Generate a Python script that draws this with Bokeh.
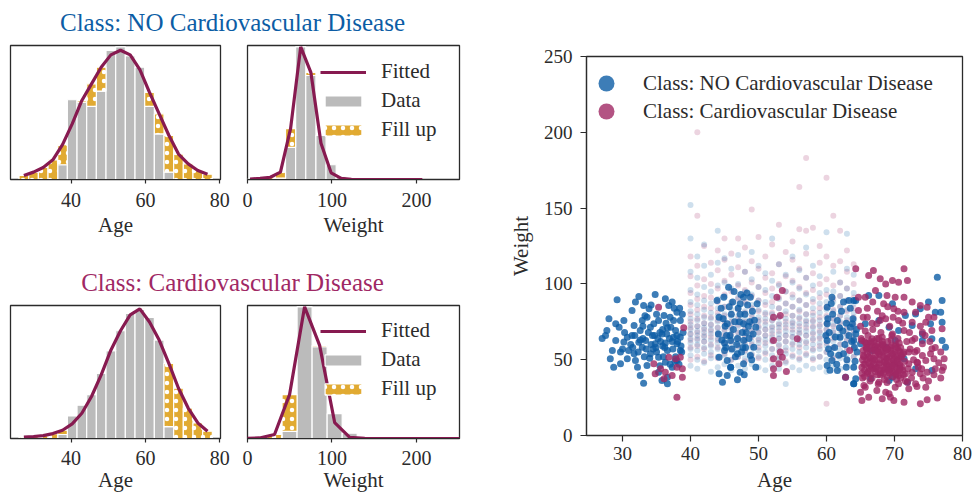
from bokeh.plotting import figure
from bokeh.layouts import row, column
from bokeh.models import Range1d, FixedTicker, Label, Legend, LegendItem
from bokeh.embed import file_html
from bokeh.resources import INLINE

# ---------------- data ----------------
title_no = "Class: NO Cardiovascular Disease"
title_cvd = "Class: Cardiovascular Disease"

age_centers = [27.3, 29.9, 32.5, 35.1, 37.7, 40.3, 42.9, 45.5, 48.1, 50.7,
               53.3, 55.9, 58.5, 61.1, 63.7, 66.3, 68.9, 71.5, 74.1, 76.7]
no_age_data = [0, 0, 0, 0, 0.11, 0.595, 0.577, 0.545, 0.66, 0.963,
               0.99, 0.925, 0.838, 0.545, 0.34, 0.055, 0, 0, 0, 0]
no_age_fit = [0.03, 0.055, 0.09, 0.147, 0.26, 0.415, 0.59, 0.714, 0.838, 0.93,
              0.965, 0.93, 0.82, 0.65, 0.49, 0.33, 0.19, 0.117, 0.067, 0.04]
cvd_age_data = [0, 0, 0, 0, 0.03, 0.17, 0.25, 0.33, 0.49, 0.66,
                0.81, 0.94, 0.97, 0.91, 0.74, 0.09, 0, 0, 0, 0]
cvd_age_fit = [0.01, 0.015, 0.022, 0.037, 0.062, 0.11, 0.19, 0.316, 0.478, 0.664,
               0.81, 0.93, 0.975, 0.876, 0.74, 0.565, 0.378, 0.229, 0.117, 0.055]

no_w_centers = [3, 15, 27, 39, 51, 63, 75, 87, 99, 111, 123, 135, 147, 159, 171, 183, 195, 207]
no_w_data = [0, 0, 0, 0.01, 0.24, 0.99, 0.776, 0.33, 0.11, 0.02, 0, 0, 0, 0, 0, 0, 0, 0]
no_w_fit = [0.003, 0.008, 0.017, 0.055, 0.38, 0.99, 0.80, 0.27, 0.05, 0.008, 0.002, 0, 0, 0, 0, 0, 0, 0]

cvd_w_centers = [-3.6, 14.2, 32.0, 49.8, 67.6, 85.4, 103.2, 121.0, 138.8, 156.6,
                 174.4, 192.2, 210.0, 227.8, 245.6, 263.4]
cvd_w_data = [0, 0, 0, 0.054, 0.99, 0.69, 0.187, 0.04, 0, 0, 0, 0, 0, 0, 0, 0]
cvd_w_fit = [0, 0.004, 0.03, 0.33, 0.99, 0.70, 0.12, 0.008, 0.002, 0, 0, 0, 0, 0, 0, 0]

age_ticks = [40, 60, 80]
weight_ticks = [0, 100, 200]
scatter_x_ticks = [30, 40, 50, 60, 70, 80]
scatter_y_ticks = [0, 50, 100, 150, 200, 250]

# faint (original) records, one column per age year
faint_ages = [40, 41, 42, 43, 44, 45, 46, 47, 48, 49, 50, 51, 52,
              53, 54, 55, 56, 57, 58, 59, 60, 61, 62, 63, 64]
faint_no_w = [
    [46, 53, 57, 61, 64, 67, 70, 73, 77, 82, 88, 96, 108, 130, 152],
    [44, 50, 56, 60, 63, 66, 69, 72, 76, 80, 86, 93, 104, 118],
    [48, 54, 58, 62, 65, 68, 71, 74, 78, 83, 89, 98, 112, 126],
    [42, 51, 55, 59, 63, 67, 70, 73, 77, 81, 87, 95, 106],
    [45, 52, 57, 61, 64, 68, 71, 75, 79, 84, 90, 99, 114, 135],
    [47, 53, 58, 62, 65, 69, 72, 76, 80, 85, 92, 101, 117],
    [43, 50, 56, 60, 64, 67, 70, 74, 78, 83, 88, 97, 110],
    [46, 52, 57, 61, 65, 68, 72, 75, 79, 84, 91, 100, 119],
    [44, 51, 55, 60, 63, 66, 70, 73, 77, 82, 87, 95, 108],
    [47, 54, 58, 62, 66, 69, 73, 76, 80, 86, 93, 103, 121],
    [45, 52, 56, 61, 64, 68, 71, 75, 78, 83, 89, 98, 112],
    [43, 50, 55, 59, 63, 66, 70, 73, 77, 81, 88, 96, 107],
    [46, 53, 57, 62, 65, 69, 72, 76, 80, 85, 92, 102, 130],
    [44, 51, 56, 60, 64, 67, 71, 74, 78, 84, 90, 99, 113],
    [34, 48, 54, 58, 62, 66, 69, 73, 77, 82, 87, 95, 106],
    [45, 52, 57, 61, 65, 68, 72, 75, 79, 85, 91, 101, 118],
    [43, 50, 55, 60, 63, 67, 70, 74, 78, 83, 89, 97, 109],
    [46, 53, 58, 62, 66, 69, 73, 76, 80, 86, 93, 104, 124],
    [44, 51, 56, 60, 64, 68, 71, 75, 79, 84, 90, 99, 112],
    [45, 52, 57, 61, 65, 68, 72, 76, 81, 87, 94, 105],
    [42, 50, 55, 59, 63, 67, 70, 74, 78, 83, 88, 96, 134],
    [46, 53, 58, 62, 66, 69, 73, 77, 82, 88, 95, 108],
    [44, 51, 56, 60, 64, 67, 71, 75, 79, 85, 92, 101],
    [47, 54, 58, 63, 66, 70, 74, 78, 83, 89, 97, 110, 133],
    [45, 52, 57, 61, 65, 68, 72, 76, 81, 87, 94, 106],
]
faint_cvd_w = [
    [50, 58, 63, 67, 71, 75, 80, 86, 94, 105, 118],
    [52, 59, 64, 68, 72, 77, 83, 90, 99, 112, 145, 200],
    [49, 57, 62, 66, 70, 74, 79, 85, 92, 103, 125],
    [53, 60, 65, 69, 73, 78, 84, 91, 100, 114],
    [51, 58, 63, 67, 71, 76, 81, 88, 97, 109, 122],
    [54, 61, 66, 70, 74, 79, 85, 93, 102, 116, 130],
    [50, 57, 62, 67, 71, 75, 80, 87, 95, 106, 120],
    [52, 59, 64, 68, 73, 77, 83, 90, 99, 111, 130],
    [49, 56, 62, 66, 70, 75, 81, 88, 96, 108, 124],
    [53, 60, 65, 69, 74, 78, 84, 92, 101, 115, 149],
    [51, 58, 63, 68, 72, 76, 82, 89, 98, 110, 131],
    [54, 61, 66, 70, 75, 80, 86, 94, 104, 118],
    [50, 57, 63, 67, 71, 76, 81, 88, 97, 107, 126],
    [52, 59, 64, 69, 73, 78, 84, 91, 100, 113, 139],
    [49, 56, 62, 66, 71, 75, 80, 87, 95, 105, 121],
    [53, 60, 65, 70, 74, 79, 85, 93, 102, 116, 128],
    [51, 58, 63, 68, 72, 77, 82, 89, 98, 110, 136, 164],
    [54, 61, 66, 71, 75, 80, 86, 94, 104, 120, 135, 183],
    [50, 57, 63, 67, 72, 76, 81, 88, 96, 107, 137],
    [52, 59, 64, 69, 73, 78, 84, 91, 100, 114, 125],
    [21, 55, 61, 66, 70, 74, 79, 85, 93, 103, 118, 170],
    [51, 58, 64, 68, 72, 77, 83, 90, 99, 112, 145],
    [53, 60, 65, 70, 74, 79, 85, 92, 101, 115, 135],
    [50, 57, 63, 67, 71, 76, 82, 89, 97, 108, 122],
    [52, 59, 64, 69, 73, 78, 84, 91, 100, 113],
]

# generated ("fill up") samples, NO class
no_gen_age = [
    29.2, 27.5, 27.0, 28.0, 29.0, 29.0, 30.2, 28.2, 28.7, 29.7, 31.4, 31.9, 32.4, 33.1, 34.8, 33.6,
    34.1, 32.6, 31.7, 30.7, 31.7, 32.2, 32.6, 33.1, 36.3, 36.8, 37.3, 38.0, 38.5, 37.1, 35.8, 34.8,
    36.6, 38.0, 38.5, 34.1, 35.3, 36.3, 33.6, 35.3, 36.6, 36.6, 30.9, 29.7, 32.9, 33.4, 34.4, 32.4,
    34.6, 35.3, 36.1, 37.5, 37.8, 37.5, 38.5, 38.0, 37.3, 35.8, 31.9, 30.7, 27.7, 29.5, 30.2, 33.9,
    32.9, 31.4, 33.5, 34.2, 35.0, 35.6, 36.2, 36.9, 37.4, 38.1, 34.7, 35.9, 36.5, 37.8, 38.6, 33.0,
    34.0, 36.0, 37.0, 38.3, 35.5, 32.3, 31.2, 31.8, 30.0, 38.9, 38.8, 37.6, 36.4, 35.0, 34.2, 33.3,
    33.8, 34.5, 35.2, 35.9, 36.6, 37.3, 38.0, 38.7, 33.2, 34.9, 36.3, 37.7, 32.6, 35.5, 37.0, 38.4,
    31.5, 30.3, 28.5, 33.0,
    44.2, 44.7, 45.4, 46.9, 45.6, 44.9, 43.9, 47.8, 48.8, 47.3, 49.8, 44.2, 45.4, 47.8, 49.6, 44.1,
    45.9, 47.8, 49.3, 45.0, 46.9, 48.8, 45.4, 47.8, 49.6, 47.3, 45.9, 44.2, 45.8, 46.3, 46.8, 47.2,
    47.6, 48.1, 48.5, 45.2, 46.0, 47.0, 48.0, 48.6, 49.2, 44.6, 45.1, 46.6, 47.5, 49.0, 44.5, 46.2,
    48.3, 45.9, 47.9, 49.4, 44.8, 45.3, 45.7, 46.1, 46.5, 46.9, 47.3, 47.7, 48.2, 48.7, 49.1, 45.0,
    46.4, 47.4, 48.4,
    60.1, 60.8, 62.5, 64.0, 60.1, 61.6, 63.5, 60.1, 62.0, 64.0, 60.6, 62.5, 64.5, 60.1, 61.6, 62.8,
    64.0, 64.0, 60.8, 60.4, 61.2, 61.9, 62.7, 63.3, 63.9, 64.4, 60.9, 62.2, 63.0, 61.5, 64.2, 60.3,
    62.9, 59.9, 60.2, 60.7, 61.3, 61.8, 62.4, 62.9, 63.5, 64.1, 60.5, 63.7,
    76.3, 77.0, 75.0, 73.8, 76.0, 76.8, 73.1, 71.6, 69.7, 67.7, 66.2, 64.3, 63.3, 77.0, 77.5, 77.0,
    75.5, 74.1, 72.6, 70.6, 69.2, 67.7, 65.7, 63.8, 64.3, 65.0, 71.4, 73.1, 71.9, 69.7, 69.2, 66.5,
    64.3, 64.0, 74.1, 75.3, 70.1, 68.7, 66.7, 75.5,
]
no_gen_w = [
    89.5, 66.0, 64.0, 77.0, 73.7, 62.7, 61.6, 50.6, 45.0, 47.3, 82.5, 88.0, 91.7, 85.8, 93.0, 78.0,
    71.4, 69.3, 72.6, 64.8, 53.9, 45.0, 39.6, 34.5, 90.2, 85.8, 88.0, 81.3, 75.9, 71.4, 67.0, 60.5,
    56.0, 60.5, 64.8, 53.9, 51.6, 48.3, 46.2, 41.8, 34.1, 38.5, 56.0, 55.0, 58.2, 62.7, 66.0, 61.5,
    73.7, 75.9, 79.2, 75.9, 69.3, 64.8, 56.0, 49.5, 45.0, 36.3, 49.5, 50.6, 69.3, 71.4, 75.9, 83.6,
    75.9, 66.0, 57.0, 60.0, 55.0, 62.0, 58.0, 64.0, 57.0, 62.0, 66.0, 70.0, 67.0, 52.0, 59.0, 64.0,
    51.0, 52.0, 47.0, 47.0, 46.0, 55.0, 60.0, 66.0, 57.0, 68.0, 80.0, 84.0, 74.0, 80.0, 86.0, 79.0,
    68.0, 57.0, 64.0, 59.0, 71.0, 62.0, 66.0, 55.0, 52.0, 58.0, 61.0, 49.0, 63.0, 68.0, 78.0, 84.0,
    58.0, 68.0, 56.0, 72.0,
    40.7, 35.2, 39.6, 36.7, 97.8, 91.2, 89.0, 91.2, 91.2, 86.9, 86.9, 78.0, 73.7, 73.7, 71.4, 67.0,
    62.7, 62.7, 58.2, 56.0, 53.9, 52.8, 49.5, 47.3, 45.0, 41.8, 45.0, 51.6, 66.0, 70.0, 60.0, 75.0,
    68.0, 58.0, 72.0, 58.0, 80.0, 84.0, 80.0, 64.0, 67.0, 63.0, 72.0, 52.0, 55.0, 50.0, 84.0, 88.0,
    94.0, 45.0, 40.0, 76.0, 77.0, 66.0, 85.0, 57.0, 75.0, 64.0, 80.0, 58.0, 68.0, 75.0, 82.0, 61.0,
    95.0, 93.0, 86.0,
    84.6, 91.2, 88.0, 89.0, 73.7, 75.9, 71.4, 62.7, 64.8, 62.7, 53.9, 53.9, 55.0, 46.2, 42.9, 38.5,
    45.0, 34.1, 49.5, 68.0, 58.0, 71.0, 60.0, 66.0, 77.0, 70.0, 80.0, 82.0, 50.0, 47.0, 49.0, 57.0,
    74.0, 66.0, 77.0, 87.0, 65.0, 53.0, 69.0, 45.0, 84.0, 58.0, 43.0, 62.0,
    104.4, 89.0, 88.0, 83.6, 81.3, 81.3, 80.2, 79.2, 86.9, 92.3, 92.3, 89.0, 89.0, 74.7, 58.2, 62.7,
    63.8, 62.7, 72.6, 69.3, 71.4, 75.9, 73.7, 73.7, 67.0, 60.5, 50.6, 44.0, 35.2, 38.5, 36.3, 37.4,
    37.4, 34.1, 67.0, 73.7, 62.7, 58.2, 56.0, 42.9,
]

# generated ("fill up") samples, Cardiovascular class
cvd_gen_age = [
    35.3, 39.0, 34.6, 34.8, 35.6, 36.3, 36.8, 37.8, 38.5, 38.8, 38.8, 37.3, 36.1, 38.0, 38.0,
    53.5, 52.7, 52.2, 53.2, 52.2, 55.7, 53.2, 53.5, 53.0, 52.2, 52.2, 52.2, 54.1, 62.8, 63.4,
    64.3, 66.2, 66.9, 71.4, 67.9, 68.7, 69.7, 70.6, 71.9, 67.2, 68.9, 70.1, 71.4, 72.6, 73.8, 74.8,
    75.0, 75.8, 74.6, 77.0, 75.5, 74.1, 72.6, 73.1, 71.4, 69.9, 68.4, 65.7, 64.7, 64.7, 66.0, 67.4,
    68.7, 70.6, 71.4, 69.7, 68.2, 66.7, 65.2, 72.6, 74.1, 75.5, 76.8, 77.3, 77.0, 76.0, 74.8, 73.8,
    72.6, 71.6, 70.6, 72.1, 73.3, 74.6, 75.8, 75.3, 74.1, 73.3, 72.1, 74.6, 73.3, 72.1, 70.1, 68.7,
    67.4, 65.7, 65.0, 65.2, 66.2, 68.2, 69.4, 69.9, 71.4, 73.8, 74.8, 76.3, 69.2, 67.7, 70.6, 71.9,
    73.1,
    65.2, 65.5, 65.8, 66.0, 66.2, 66.4, 66.6, 66.9, 67.1, 67.3, 67.5, 67.7, 67.9, 68.1, 68.3, 68.5,
    68.7, 68.9, 69.1, 69.3, 69.5, 69.7, 69.9, 70.1, 70.3, 70.6, 70.9, 71.2, 71.5, 65.3, 65.6, 66.1,
    66.8, 67.4, 68.0, 68.6, 69.0, 69.6, 70.2, 70.8, 71.4, 65.9, 66.5, 67.2, 67.8, 68.4, 69.2, 69.8,
    70.4, 71.0, 65.4, 66.3, 67.0, 67.6, 68.2, 68.8, 69.4, 70.0, 70.7, 71.3, 65.1, 65.7, 66.7, 67.9,
    69.3, 70.5, 71.8, 72.3, 72.8, 73.5, 74.2, 72.0, 72.5, 73.0, 65.5, 66.4, 67.6, 68.9, 70.3, 71.6,
    65.0, 65.4, 66.0, 66.8, 67.5, 68.2, 69.0, 69.8, 70.5, 71.2, 72.2, 73.0, 73.8, 74.5, 75.2, 76.0,
    76.5, 77.2, 76.8, 75.8, 75.0, 74.0, 73.4,
    65.3, 65.6, 65.9, 66.2, 66.5, 66.8, 67.1, 67.4, 67.7, 68.0, 68.3, 68.6, 68.9, 69.2, 69.5, 69.8,
    70.1, 70.4, 70.7, 71.0, 65.5, 66.0, 66.6, 67.2, 67.8, 68.4, 69.0, 69.6, 70.2, 70.8, 65.2, 65.8,
    66.4, 67.0, 67.6, 68.2, 68.8, 69.4, 70.0, 70.6,
    65.4, 65.7, 66.0, 66.3, 66.6, 66.9, 67.2, 67.5, 67.8, 68.1, 68.4, 68.7, 69.0, 69.3, 69.6, 69.9,
    70.2, 70.5, 70.8, 71.1, 65.6, 66.1, 66.7, 67.3, 67.9, 68.5, 69.1, 69.7, 70.3, 70.9, 65.9, 66.5,
    67.1, 67.7, 68.3, 68.9, 69.5, 70.1, 70.7, 71.3,
]
cvd_gen_w = [
    84.6, 71.0, 47.3, 40.7, 44.0, 41.8, 51.6, 50.6, 51.6, 44.0, 38.5, 39.6, 37.4, 25.3, 45.0,
    95.6, 91.2, 78.0, 79.2, 62.7, 63.8, 55.0, 51.6, 47.3, 50.6, 44.0, 39.6, 42.2, 38.5, 56.0,
    110.0, 105.5, 108.8, 110.0, 103.4, 100.0, 102.2, 101.1, 102.2, 95.6, 92.3, 91.2, 91.2, 88.0, 85.8, 84.6,
    78.0, 78.0, 74.7, 70.4, 69.3, 68.1, 74.7, 81.3, 81.3, 83.6, 86.9, 91.2, 91.2, 82.5, 78.0, 73.7,
    77.0, 75.9, 69.3, 67.0, 64.8, 63.8, 62.7, 62.7, 60.5, 57.2, 55.0, 50.6, 42.9, 44.0, 41.8, 40.7,
    41.8, 40.7, 39.6, 47.3, 48.3, 49.5, 50.6, 53.9, 52.8, 56.0, 55.0, 31.9, 32.3, 30.8, 31.9, 28.6,
    29.7, 31.9, 28.6, 23.1, 25.3, 24.2, 25.3, 23.1, 22.0, 20.9, 23.5, 24.8, 27.5, 35.2, 34.1, 35.2,
    34.1,
    45.0, 52.0, 58.0, 41.0, 48.0, 55.0, 61.0, 44.0, 50.0, 57.0, 40.0, 47.0, 53.0, 60.0, 43.0, 49.0,
    56.0, 39.0, 46.0, 52.0, 59.0, 42.0, 48.0, 55.0, 45.0, 51.0, 58.0, 43.0, 49.0, 38.0, 62.0, 66.0,
    70.0, 64.0, 68.0, 44.0, 62.0, 66.0, 40.0, 46.0, 55.0, 50.0, 46.0, 53.0, 43.0, 52.0, 48.0, 54.0,
    50.0, 52.0, 56.0, 59.0, 62.0, 58.0, 55.0, 51.0, 44.0, 47.0, 43.0, 40.0, 64.0, 69.0, 74.0, 76.0,
    72.0, 64.0, 62.0, 57.0, 50.0, 45.0, 38.0, 44.0, 38.0, 55.0, 33.0, 36.0, 34.0, 35.0, 37.0, 36.0,
    72.0, 78.0, 84.0, 88.0, 82.0, 79.0, 85.0, 78.0, 82.0, 74.0, 68.0, 64.0, 72.0, 66.0, 62.0, 58.0,
    48.0, 45.0, 38.0, 40.0, 36.0, 44.0, 48.0,
    50.0, 43.0, 57.0, 52.0, 40.0, 49.0, 58.0, 45.0, 54.0, 41.0, 59.0, 48.0, 53.0, 43.0, 56.0, 50.0,
    42.0, 58.0, 47.0, 53.0, 47.0, 54.0, 45.0, 59.0, 50.0, 41.0, 57.0, 46.0, 52.0, 44.0, 41.0, 61.0,
    51.0, 47.0, 55.0, 62.0, 47.0, 58.0, 51.0, 56.0,
    53.0, 47.0, 61.0, 44.0, 57.0, 51.0, 42.0, 60.0, 48.0, 56.0, 45.0, 58.0, 50.0, 41.0, 54.0, 46.0,
    60.0, 49.0, 55.0, 45.0, 39.0, 42.0, 38.0, 44.0, 40.0, 37.0, 43.0, 39.0, 41.0, 38.0, 58.0, 62.0,
    56.0, 64.0, 60.0, 57.0, 63.0, 59.0, 61.0, 54.0,
]

# ---------------- style ----------------
FONT = "Liberation Serif"
INK = "#2b2b2b"
BLUE = "#0C5DA5"
MAGENTA = "#A02864"
FIT = "#871A50"
GRAY = "#BBBBBB"
GOLD = "#E1AA32"


def style_axis(ax, tick_size, label_size, tick_out):
    ax.axis_line_color = INK
    ax.axis_line_width = 1.2
    ax.major_tick_line_color = INK
    ax.major_tick_line_width = 1.2
    ax.major_tick_out = tick_out
    ax.major_tick_in = 0
    ax.minor_tick_line_color = None
    ax.major_label_text_font = FONT
    ax.major_label_text_font_size = tick_size
    ax.major_label_text_color = INK
    ax.axis_label_text_font = FONT
    ax.axis_label_text_font_size = label_size
    ax.axis_label_text_font_style = "normal"
    ax.axis_label_text_color = INK


def title_fig(text, color, height, center_from_bottom):
    p = figure(width=469, height=height, toolbar_location=None, output_backend="svg",
               x_axis_location=None, y_axis_location=None,
               min_border_left=0, min_border_right=0, min_border_top=0, min_border_bottom=0,
               x_range=Range1d(0, 1), y_range=Range1d(0, 1))
    p.outline_line_color = None
    p.grid.visible = False
    p.add_layout(Label(x=232, y=center_from_bottom, x_units="screen", y_units="screen", text=text,
                       text_align="center", text_baseline="middle", text_font=FONT,
                       text_font_size="25px", text_color=color))
    return p


def hist_fig(centers, data, fit, bin_w, xr, ticks, xlabel, width, height,
             bl, br, bt, bb, with_legend, lab_standoff, axlab_standoff):
    p = figure(width=width, height=height, toolbar_location=None, output_backend="svg",
               x_range=Range1d(*xr), y_range=Range1d(0, 1.0), y_axis_location=None,
               min_border_left=bl, min_border_right=br, min_border_top=bt, min_border_bottom=bb)
    p.grid.visible = False
    p.outline_line_color = INK
    p.outline_line_width = 1.3
    dx = [c for c, d in zip(centers, data) if d > 0]
    dy = [d for d in data if d > 0]
    fx = [c for c, d, f in zip(centers, data, fit) if f > d]
    fb = [d for d, f in zip(data, fit) if f > d]
    ft = [f for d, f in zip(data, fit) if f > d]
    r_data = p.vbar(x=dx, top=dy, width=bin_w, fill_color=GRAY, line_color="white", line_width=1.2)
    r_fill = p.vbar(x=fx, bottom=fb, top=ft, width=bin_w, fill_color=GOLD, line_color="white",
                    line_width=1.2, hatch_pattern="dot", hatch_color="white", hatch_scale=9,
                    hatch_weight=1.2)
    r_fit = p.line(x=centers, y=fit, line_color=FIT, line_width=3.2)
    p.xaxis.ticker = FixedTicker(ticks=ticks)
    p.xaxis.axis_label = xlabel
    p.xaxis.major_label_standoff = lab_standoff
    p.xaxis.axis_label_standoff = axlab_standoff
    style_axis(p.xaxis[0], "20px", "21px", 4)
    if with_legend:
        leg = Legend(items=[LegendItem(label="Fitted", renderers=[r_fit]),
                            LegendItem(label="Data", renderers=[r_data]),
                            LegendItem(label="Fill up", renderers=[r_fill])],
                     location=(73, 37), padding=0, margin=0, spacing=4,
                     glyph_width=46, glyph_height=14, label_standoff=15,
                     label_text_font=FONT, label_text_font_size="21px",
                     label_text_color=INK, border_line_color=None,
                     background_fill_alpha=0)
        p.add_layout(leg)
    return p


# ---------------- left column ----------------
t1 = title_fig(title_no, BLUE, 40, 18)
tl = hist_fig(age_centers, no_age_data, no_age_fit, 2.6, (23.7, 80.2), age_ticks, "Age",
              233, 212, 10, 13, 5, 73, False, 9, 3)
tr = hist_fig(no_w_centers, no_w_data, no_w_fit, 12.0, (0, 251), weight_ticks, "Weight",
              236, 212, 14, 10, 5, 73, True, 9, 3)
t2 = title_fig(title_cvd, MAGENTA, 45, 15)
bl = hist_fig(age_centers, cvd_age_data, cvd_age_fit, 2.6, (23.7, 80.2), age_ticks, "Age",
              233, 197, 10, 13, 8, 55, False, 8, 0)
br = hist_fig(cvd_w_centers, cvd_w_data, cvd_w_fit, 17.8, (0, 251), weight_ticks, "Weight",
              236, 197, 14, 10, 8, 55, True, 8, 0)
left = column(t1, row(tl, tr), t2, row(bl, br))

# ---------------- scatter ----------------
sp = figure(width=505, height=494, toolbar_location=None, output_backend="svg",
            x_range=Range1d(24.7, 80), y_range=Range1d(0, 250),
            min_border_left=117, min_border_right=12, min_border_top=56, min_border_bottom=59)
sp.grid.visible = False
sp.outline_line_color = INK
sp.outline_line_width = 1.3

fb_x, fb_y, fc_x, fc_y = [], [], [], []
for a, ws in zip(faint_ages, faint_no_w):
    fb_x += [a] * len(ws)
    fb_y += ws
for a, ws in zip(faint_ages, faint_cvd_w):
    fc_x += [a] * len(ws)
    fc_y += ws
sp.scatter(x=fc_x, y=fc_y, size=6, fill_color=MAGENTA, line_color=None, fill_alpha=0.2)
sp.scatter(x=fb_x, y=fb_y, size=6, fill_color=BLUE, line_color=None, fill_alpha=0.2)
r_no = sp.scatter(x=no_gen_age, y=no_gen_w, size=7, fill_color=BLUE, line_color=None, fill_alpha=0.8)
r_cvd = sp.scatter(x=cvd_gen_age, y=cvd_gen_w, size=7, fill_color=MAGENTA, line_color=None, fill_alpha=0.8)

for lab, rend, ypos in [(title_no, r_no, 332), (title_cvd, r_cvd, 304)]:
    lg = Legend(items=[LegendItem(label=lab, renderers=[rend])],
                location=(0, ypos), padding=0, margin=0, spacing=0,
                glyph_width=40, glyph_height=40, label_standoff=17,
                label_text_font=FONT, label_text_font_size="21px", label_text_color=INK,
                border_line_color=None, background_fill_alpha=0)
    sp.add_layout(lg)

sp.xaxis.ticker = FixedTicker(ticks=scatter_x_ticks)
sp.yaxis.ticker = FixedTicker(ticks=scatter_y_ticks)
sp.xaxis.axis_label = "Age"
sp.yaxis.axis_label = "Weight"
sp.xaxis.major_label_standoff = 5
sp.yaxis.major_label_standoff = 8
sp.xaxis.axis_label_standoff = 5
sp.yaxis.axis_label_standoff = 8
style_axis(sp.xaxis[0], "19px", "21px", 6)
style_axis(sp.yaxis[0], "19px", "21px", 6)

layout = row(left, sp)
open("out.html", "w").write(file_html(layout, INLINE))
